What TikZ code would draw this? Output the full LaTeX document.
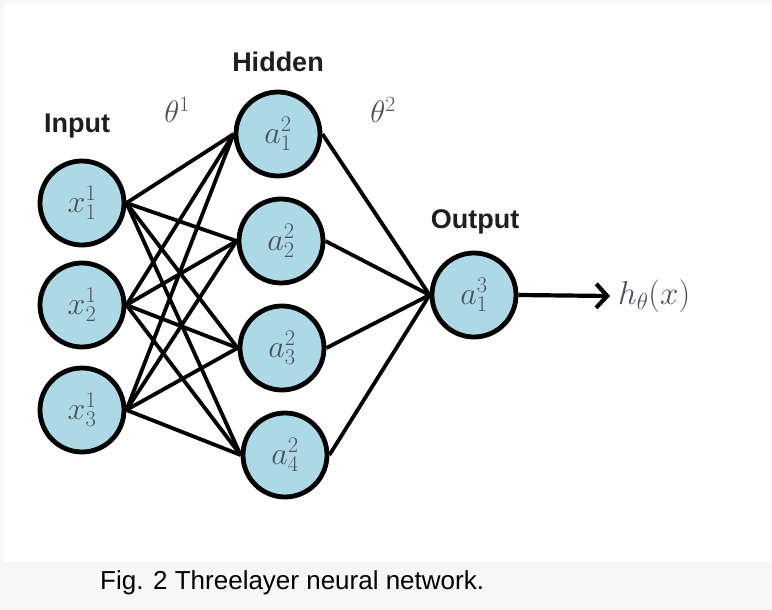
\RequirePackage{fix-cm}
\documentclass[tikz,border=0pt]{standalone}
\usepackage{fontspec}
\setmainfont{Liberation Sans}
\usetikzlibrary{arrows.meta}
\definecolor{nodefill}{RGB}{173,216,230}
\definecolor{mathgray}{RGB}{75,82,90}
\definecolor{bggray}{RGB}{247,247,247}
\definecolor{labdark}{RGB}{30,30,35}
\tikzset{
  neuron/.style={circle, draw=black, fill=nodefill, line width=4.8pt, minimum size=84pt, inner sep=0pt,
    text=mathgray, font=\fontsize{32}{34}\selectfont},
  conn/.style={line width=3.8pt, draw=black},
  layerlab/.style={font=\fontsize{27}{30}\selectfont\bfseries, text=labdark},
  thetalab/.style={font=\fontsize{31}{33}\selectfont, text=mathgray},
}
\begin{document}
\begin{tikzpicture}[x=1pt,y=-1pt]
\useasboundingbox (0,0) rectangle (772,610);
\fill[bggray] (0,0) rectangle (772,610);
\fill[white] (4,4) rectangle (772,562);
% input layer
\node[neuron] (x1) at (82,203) {$x^1_1$};
\node[neuron] (x2) at (82,305) {$x^1_2$};
\node[neuron] (x3) at (82,410) {$x^1_3$};
% hidden layer
\node[neuron] (a1) at (278,134) {$a^2_1$};
\node[neuron] (a2) at (281,241) {$a^2_2$};
\node[neuron] (a3) at (282,348) {$a^2_3$};
\node[neuron] (a4) at (285,455) {$a^2_4$};
% output
\node[neuron] (o1) at (474,295) {$a^3_1$};
% labels
\node[layerlab] (lin) at (77,126) {Input};
\node[layerlab] (lhid) at (278,62) {Hidden};
\node[layerlab] (lout) at (475,222) {Output};
\node[thetalab] (t1) at (177,110) {$\theta^1$};
\node[thetalab] (t2) at (383,110) {$\theta^2$};
\node[thetalab, anchor=west, font=\fontsize{33}{35}\selectfont, inner sep=2pt] (h) at (616,296) {$h_\theta(x)$};
% connections
\foreach \i in {x1,x2,x3}{
  \foreach \j in {a1,a2,a3,a4}{
    \draw[conn] (\i.east) -- (\j.west);
  }
}
\foreach \j in {a1,a2,a3,a4}{
  \draw[conn] (\j.east) -- (o1.west);
}
\draw[conn, line width=4.2pt, -{Straight Barb[length=11pt,width=24pt,line width=4.2pt]}] (o1.east) -- ([xshift=-6pt]h.west);
% caption
\node[font=\fontsize{26}{28}\selectfont, anchor=base west, text=black, inner sep=0pt] (cap) at (100,589) {Fig. 2 Threelayer neural network.};
\end{tikzpicture}
\end{document}
